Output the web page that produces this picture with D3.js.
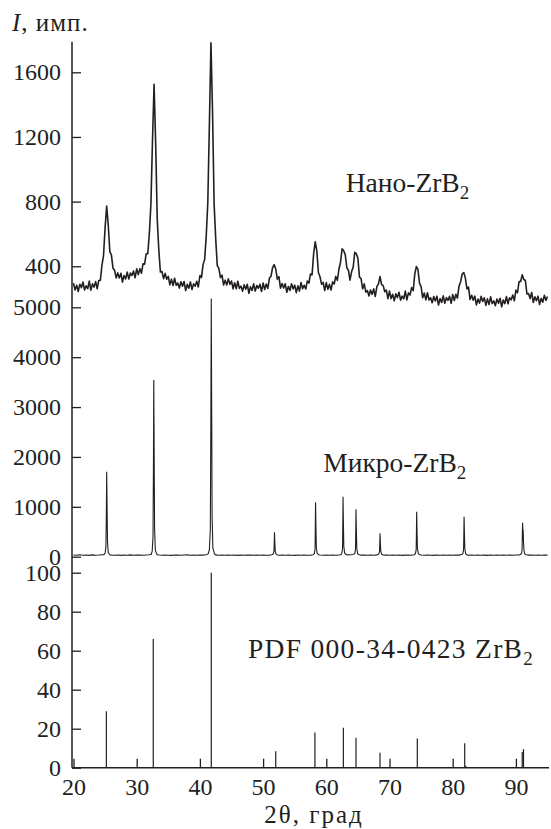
<!DOCTYPE html>
<html>
<head>
<meta charset="utf-8">
<script src="https://cdn.jsdelivr.net/npm/d3@7/dist/d3.min.js"></script>
<style>
  body { margin: 0; background: #fff; }
  text { font-family: "Liberation Serif", "Times New Roman", serif; fill: #231f20; }
</style>
</head>
<body>
<div id="chart"></div>
<script>
// X-ray patterns of ZrB2: nano powder, micro powder and the PDF card lines

// nano-ZrB2: counts read every 0.25 deg from 20 to 95 deg
const nanoAngles = d3.range(0, 301).map(i => 20 + i * 0.25);
const nanoCounts = [
  296, 253, 283, 244, 289, 267, 302, 253, 279, 261, 308, 252, 291, 271, 305, 261,
  312, 313, 406, 465, 639, 772, 654, 490, 469, 388, 375, 328, 359, 328, 357, 302,
  343, 321, 364, 321, 358, 343, 370, 329, 384, 348, 385, 357, 415, 413, 477, 478,
  603, 785, 1181, 1525, 1162, 690, 500, 364, 367, 323, 356, 320, 337, 285, 320, 281,
  326, 282, 296, 265, 304, 276, 305, 249, 288, 264, 303, 256, 291, 277, 307, 272,
  342, 331, 410, 441, 585, 793, 1277, 1783, 1353, 785, 571, 404, 387, 330, 345, 284,
  314, 284, 322, 288, 309, 260, 298, 261, 307, 263, 277, 246, 285, 258, 288, 233,
  273, 250, 291, 246, 281, 264, 288, 244, 296, 256, 290, 263, 327, 338, 392, 410,
  383, 320, 336, 264, 293, 266, 292, 239, 275, 250, 292, 260, 283, 237, 279, 247,
  299, 261, 282, 259, 309, 296, 352, 348, 479, 551, 495, 361, 335, 289, 300, 250,
  299, 257, 288, 253, 303, 290, 337, 313, 383, 425, 508, 496, 472, 390, 375, 314,
  367, 393, 486, 478, 449, 333, 324, 260, 291, 240, 250, 216, 253, 226, 260, 213,
  274, 291, 336, 286, 280, 242, 253, 200, 246, 200, 227, 186, 229, 206, 239, 190,
  215, 198, 246, 192, 235, 222, 268, 249, 352, 398, 380, 295, 274, 205, 234, 192,
  236, 191, 205, 174, 213, 185, 215, 160, 200, 176, 217, 171, 206, 189, 214, 171,
  225, 188, 226, 203, 277, 303, 352, 361, 328, 260, 271, 194, 220, 190, 215, 161,
  197, 172, 214, 182, 205, 158, 198, 163, 211, 169, 186, 156, 197, 171, 202, 149,
  191, 169, 212, 168, 205, 192, 222, 186, 252, 236, 305, 306, 347, 318, 312, 228,
  231, 200, 238, 176, 211, 187, 215, 163, 201, 177, 220, 189, 213
];

// micro-ZrB2: [2theta, counts]
const microData = [
  [20, 35], [20.5, 28], [21, 38], [21.5, 30], [22, 33], [22.5, 26], [23, 36], [23.5, 30], [24, 34], [24.5, 40], [24.8, 42],
  [25.0, 70], [25.13, 205], [25.2, 880], [25.25, 1703], [25.31, 1030], [25.38, 290], [25.5, 85], [25.75, 40],
  [26, 32], [26.5, 29], [27, 35], [27.5, 27], [28, 33], [28.5, 30], [29, 36], [29.5, 28], [30, 32], [30.5, 35], [31, 30], [31.5, 34], [32, 38], [32.3, 50],
  [32.45, 110], [32.58, 390], [32.65, 1800], [32.7, 3541], [32.76, 2150], [32.83, 560], [32.95, 130], [33.2, 45],
  [33.5, 33], [34, 29], [34.5, 35], [35, 30], [35.5, 27], [36, 34], [36.5, 31], [37, 28], [37.5, 33], [38, 36], [38.5, 30], [39, 34], [39.5, 29], [40, 35], [40.5, 32], [41, 38], [41.3, 55],
  [41.5, 140], [41.65, 560], [41.73, 2650], [41.8, 5178], [41.86, 3100], [41.93, 800], [42.05, 180], [42.3, 55],
  [42.5, 36], [43, 30], [43.5, 34], [44, 28], [44.5, 33], [45, 30], [45.5, 35], [46, 27], [46.5, 32], [47, 29], [47.5, 34], [48, 31], [48.5, 28], [49, 33], [49.5, 30], [50, 35], [50.5, 29], [51, 32], [51.4, 38],
  [51.6, 55], [51.72, 110], [51.76, 260], [51.8, 489], [51.85, 300], [51.92, 110], [52.05, 50], [52.3, 35],
  [52.5, 30], [53, 33], [53.5, 28], [54, 34], [54.5, 30], [55, 27], [55.5, 33], [56, 30], [56.5, 35], [57, 29], [57.5, 32], [57.9, 38],
  [58.1, 60], [58.22, 150], [58.26, 560], [58.3, 1090], [58.35, 680], [58.42, 200], [58.55, 70], [58.8, 38],
  [59, 33], [59.5, 29], [60, 34], [60.5, 30], [61, 33], [61.5, 28], [62, 35], [62.3, 40],
  [62.45, 65], [62.57, 160], [62.61, 620], [62.65, 1202], [62.7, 740], [62.77, 210], [62.9, 75], [63.1, 45],
  [63.4, 36], [63.8, 38], [64.2, 45],
  [64.5, 60], [64.62, 140], [64.66, 490], [64.7, 950], [64.75, 580], [64.82, 180], [64.95, 60], [65.2, 38],
  [65.5, 31], [66, 34], [66.5, 28], [67, 33], [67.5, 30], [68, 36],
  [68.3, 52], [68.42, 100], [68.46, 250], [68.5, 469], [68.55, 290], [68.62, 110], [68.75, 50], [69, 35],
  [69.5, 31], [70, 28], [70.5, 34], [71, 30], [71.5, 33], [72, 27], [72.5, 32], [73, 35], [73.5, 30], [73.9, 40],
  [74.1, 60], [74.22, 140], [74.26, 470], [74.3, 902], [74.35, 560], [74.42, 170], [74.55, 65], [74.8, 38],
  [75, 33], [75.5, 29], [76, 34], [76.5, 30], [77, 27], [77.5, 33], [78, 30], [78.5, 35], [79, 28], [79.5, 32], [80, 30], [80.5, 34], [81, 31], [81.4, 42],
  [81.6, 62], [81.72, 140], [81.76, 420], [81.8, 802], [81.85, 500], [81.92, 160], [82.05, 60], [82.3, 36],
  [82.5, 30], [83, 33], [83.5, 28], [84, 34], [84.5, 30], [85, 32], [85.5, 27], [86, 33], [86.5, 30], [87, 35], [87.5, 28], [88, 32], [88.5, 30], [89, 34], [89.5, 29], [90, 33], [90.5, 36], [90.75, 45],
  [90.9, 70], [90.98, 160], [91.02, 420], [91.06, 681], [91.1, 520], [91.15, 540], [91.2, 300], [91.28, 120], [91.4, 55], [91.65, 38],
  [92, 31], [92.5, 34], [93, 29], [93.5, 33], [94, 30], [94.5, 35], [95, 31]
];

// PDF 000-34-0423: [2theta, relative intensity]
const pdfLines = [
  [25.2, 29], [32.62, 66], [41.8, 100], [52.0, 8.5], [58.2, 18], [62.7, 20.5],
  [64.7, 15.4], [68.5, 7.7], [74.4, 15], [81.9, 12.5], [82.1, 1], [91.0, 8], [91.2, 9.5]
];

const xTicks = [20, 30, 40, 50, 60, 70, 80, 90];
const nanoTicks = [400, 800, 1200, 1600];
const microTicks = [0, 1000, 2000, 3000, 4000, 5000];
const pdfTicks = [0, 20, 40, 60, 80, 100];

const width = 551, height = 829;
const axisX = 72, axisTop = 41.7, axisBottom = 767.7;
const ink = "#231f20";
const serif = '"Liberation Serif", "Times New Roman", serif';

const svg = d3.select("#chart").append("svg")
    .attr("width", width)
    .attr("height", height);

const x = d3.scaleLinear().domain([20, 95]).range([73.5, 547.5]);
const yNano = d3.scaleLinear().domain([0, 1600]).range([330.9, 72.3]);
const yMicro = d3.scaleLinear().domain([0, 5000]).range([556.7, 307.3]);
const yPdf = d3.scaleLinear().domain([0, 100]).range([axisBottom, 572.7]);

// y axes, ticks pointing inwards
function yAxis(scale, ticks) {
    const g = svg.append("g")
        .attr("transform", "translate(" + axisX + ",0)")
        .call(d3.axisLeft(scale).tickValues(ticks).tickFormat(d3.format("d"))
            .tickSizeInner(-9).tickSizeOuter(0).tickPadding(11));
    g.attr("font-family", null).attr("font-size", null);
    g.select(".domain").remove();
    g.selectAll(".tick line").attr("stroke", ink).attr("stroke-width", 1.3);
    g.selectAll(".tick text")
        .style("font-family", serif)
        .style("font-size", "24px")
        .style("fill", ink);
}
yAxis(yNano, nanoTicks);
yAxis(yMicro, microTicks);
yAxis(yPdf, pdfTicks);

// x axis
const gx = svg.append("g")
    .attr("transform", "translate(0," + axisBottom + ")")
    .call(d3.axisBottom(x).tickValues(xTicks).tickFormat(d3.format("d"))
        .tickSizeInner(-9).tickSizeOuter(0).tickPadding(10));
gx.attr("font-family", null).attr("font-size", null);
gx.select(".domain").remove();
gx.selectAll(".tick line").attr("stroke", ink).attr("stroke-width", 1.3);
gx.selectAll(".tick text")
    .style("font-family", serif)
    .style("font-size", "24px")
    .style("fill", ink);

// axis lines
svg.append("line")
    .attr("x1", axisX).attr("x2", axisX)
    .attr("y1", axisTop).attr("y2", axisBottom)
    .attr("stroke", ink).attr("stroke-width", 1.5);
svg.append("line")
    .attr("x1", axisX).attr("x2", 549)
    .attr("y1", axisBottom).attr("y2", axisBottom)
    .attr("stroke", ink).attr("stroke-width", 1.5);

// nano pattern (noisy, drawn a little heavier)
const nanoLine = d3.line()
    .x((d, i) => x(nanoAngles[i]))
    .y(d => yNano(d));
svg.append("path")
    .datum(nanoCounts)
    .attr("fill", "none")
    .attr("stroke", ink)
    .attr("stroke-width", 1.6)
    .attr("stroke-linejoin", "round")
    .attr("d", nanoLine);

// micro pattern
const microLine = d3.line()
    .x(d => x(d[0]))
    .y(d => yMicro(d[1]));
svg.append("path")
    .datum(microData)
    .attr("fill", "none")
    .attr("stroke", ink)
    .attr("stroke-width", 1.1)
    .attr("d", microLine);

// PDF card lines
svg.selectAll(".pdf")
    .data(pdfLines)
    .enter()
    .append("line")
    .attr("class", "pdf")
    .attr("x1", d => x(d[0])).attr("x2", d => x(d[0]))
    .attr("y1", yPdf(0)).attr("y2", d => yPdf(d[1]))
    .attr("stroke", ink)
    .attr("stroke-width", 1.2);

// labels
function formula(textSel, name, size) {
    textSel.style("font-size", size + "px");
    textSel.append("tspan").text(name + "ZrB");
    textSel.append("tspan").text("2").attr("dy", 7).style("font-size", Math.round(size * 0.68) + "px");
}
formula(svg.append("text").attr("x", 345.7).attr("y", 191.7), "Нано-", 27.5);
formula(svg.append("text").attr("x", 323.3).attr("y", 471.7), "Микро-", 27.5);
formula(svg.append("text").attr("x", 248).attr("y", 658).style("letter-spacing", "1.3px"),
    "PDF 000-34-0423 ", 27.5);

const yTitle = svg.append("text").attr("x", 12).attr("y", 31)
    .style("font-size", "25px").style("letter-spacing", "1px");
yTitle.append("tspan").style("font-style", "italic").text("I");
yTitle.append("tspan").text(", имп.");

svg.append("text")
    .attr("x", 314).attr("y", 823)
    .attr("text-anchor", "middle")
    .style("font-size", "25px")
    .style("letter-spacing", "2px")
    .text("2θ, град");
</script>
</body>
</html>
